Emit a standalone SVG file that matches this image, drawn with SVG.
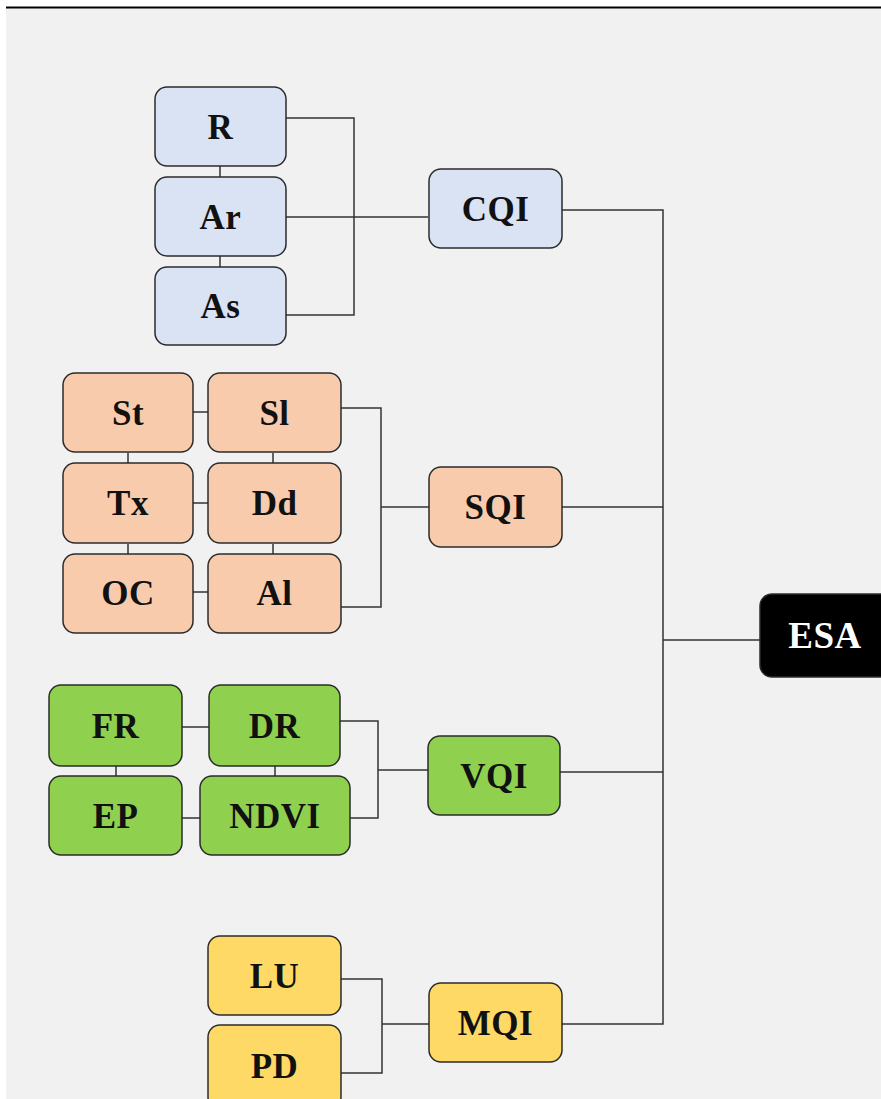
<svg xmlns="http://www.w3.org/2000/svg" width="881" height="1099" viewBox="0 0 881 1099">
<style>
.n rect{stroke:#2b2b2b;stroke-width:1.5}
.n text{font-family:"Liberation Serif","DejaVu Serif",serif;font-weight:bold;font-size:35px;letter-spacing:0.5px;text-anchor:middle;fill:#111}
.b rect{fill:#dae3f3}
.o rect{fill:#f8cbad}
.g rect{fill:#8fd14f}
.y rect{fill:#ffd966}
#conn path{fill:none;stroke:#333;stroke-width:1.5}
</style>
<rect x="0" y="0" width="881" height="1099" fill="#ffffff"/>
<rect x="6" y="8" width="875" height="1091" fill="#f1f1f1"/>
<line x1="6" y1="7.5" x2="881" y2="7.5" stroke="#000" stroke-width="2"/>
<g id="conn">
<path d="M220 166V177M220 256V267"/>
<path d="M286 118H354V315H286M286 217H428"/>
<path d="M562 210H663V1024H562"/>
<path d="M663 507H562M663 772H560M663 640H760"/>
<path d="M193 412H208M193 503H208M193 592H208M128 453V464M128 544V555M273 453V464M273 544V555"/>
<path d="M341 408H381V607H341M381 507H429"/>
<path d="M182 727H209M182 818H200M116 766V776M275 766V776"/>
<path d="M340 721H378V818H350M378 770H428"/>
<path d="M341 979H382V1073H341M382 1024H429"/>
</g>
<g id="R" class="n b"><rect x="155" y="87" width="131" height="79" rx="12"/><text x="220.5" y="139">R</text></g>
<g id="Ar" class="n b"><rect x="155" y="177" width="131" height="79" rx="12"/><text x="220.5" y="229">Ar</text></g>
<g id="As" class="n b"><rect x="155" y="267" width="131" height="78" rx="12"/><text x="220.5" y="318">As</text></g>
<g id="CQI" class="n b"><rect x="429" y="169" width="133" height="79" rx="12"/><text x="495.5" y="221">CQI</text></g>
<g id="St" class="n o"><rect x="63" y="373" width="130" height="79" rx="12"/><text x="128" y="425">St</text></g>
<g id="Sl" class="n o"><rect x="208" y="373" width="133" height="79" rx="12"/><text x="274.5" y="425">Sl</text></g>
<g id="Tx" class="n o"><rect x="63" y="463" width="130" height="80" rx="12"/><text x="128" y="515">Tx</text></g>
<g id="Dd" class="n o"><rect x="208" y="463" width="133" height="80" rx="12"/><text x="274.5" y="515">Dd</text></g>
<g id="OC" class="n o"><rect x="63" y="554" width="130" height="79" rx="12"/><text x="128" y="605">OC</text></g>
<g id="Al" class="n o"><rect x="208" y="554" width="133" height="79" rx="12"/><text x="274.5" y="605">Al</text></g>
<g id="SQI" class="n o"><rect x="429" y="467" width="133" height="80" rx="12"/><text x="495.5" y="519">SQI</text></g>
<g id="FR" class="n g"><rect x="49" y="685" width="133" height="81" rx="12"/><text x="115.5" y="738">FR</text></g>
<g id="DR" class="n g"><rect x="209" y="685" width="131" height="81" rx="12"/><text x="274.5" y="738">DR</text></g>
<g id="EP" class="n g"><rect x="49" y="776" width="133" height="79" rx="12"/><text x="115.5" y="828">EP</text></g>
<g id="NDVI" class="n g"><rect x="200" y="776" width="150" height="79" rx="12"/><text x="275" y="828">NDVI</text></g>
<g id="VQI" class="n g"><rect x="428" y="736" width="132" height="79" rx="12"/><text x="494" y="788">VQI</text></g>
<g id="LU" class="n y"><rect x="208" y="936" width="133" height="79" rx="12"/><text x="274.5" y="988">LU</text></g>
<g id="PD" class="n y"><rect x="208" y="1025" width="133" height="84" rx="12"/><text x="274.5" y="1078">PD</text></g>
<g id="MQI" class="n y"><rect x="429" y="983" width="133" height="79" rx="12"/><text x="495.5" y="1035">MQI</text></g>
<g id="ESA" class="n"><rect x="760" y="594" width="140" height="83" rx="12" fill="#000" stroke="#000"/><text x="825" y="648" style="fill:#fff;font-size:37px">ESA</text></g>
</svg>
